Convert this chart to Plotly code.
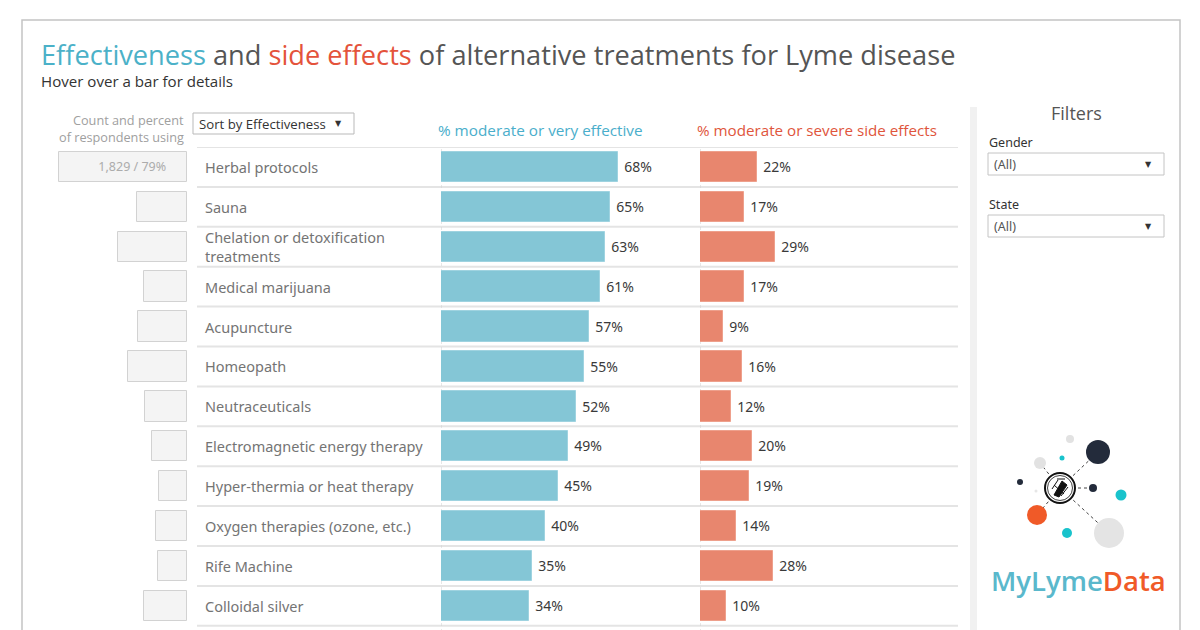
import textwrap
import plotly.graph_objects as go

W, H = 1200, 630
OFF = 8  # page body margin

# ---------------- data ----------------
treatments = ["Herbal protocols", "Sauna", "Chelation or detoxification treatments",
              "Medical marijuana", "Acupuncture", "Homeopath", "Neutraceuticals",
              "Electromagnetic energy therapy", "Hyper-thermia or heat therapy",
              "Oxygen therapies (ozone, etc.)", "Rife Machine", "Colloidal silver"]
pct_effective = [68, 65, 63, 61, 57, 55, 52, 49, 45, 40, 35, 34]
pct_side_effects = [22, 17, 29, 17, 9, 16, 12, 20, 19, 14, 28, 10]
respondents_using = [1829, 716, 984, 616, 697, 849, 601, 501, 405, 440, 420, 616]
pct_respondents_using = [79, 31, 43, 27, 30, 37, 26, 22, 17, 19, 18, 27]

# ---------------- helpers ----------------
def px(x):
    return (x - OFF) / W

def py(y):
    return 1 - (y - OFF) / H

BLUE = "#84c6d6"
RED = "#e8866e"
TITLE_BLUE = "#4bb1c8"
TITLE_RED = "#e4533b"
GREY_TXT = "#555555"
FONT = "Open Sans"
LABEL_FONT = "Noto Sans"
NB = "\u00a0"

n = len(treatments)
rows = list(range(n))
count_labels = [NB * 6 + f"{c:,} / {p}%" if i == 0 else "" for i, (c, p) in
                enumerate(zip(respondents_using, pct_respondents_using))]

fig = go.Figure()

# left "count" boxes (reversed axis)
fig.add_trace(go.Bar(
    y=rows, x=respondents_using, orientation="h", xaxis="x", yaxis="y",
    width=0.76, marker=dict(color="#f4f4f4", line=dict(color="#d2d2d2", width=1)),
    text=count_labels, textposition="inside", insidetextanchor="middle",
    textfont=dict(family=LABEL_FONT, size=12.5, color="#acacac"),
    customdata=pct_respondents_using,
    hovertemplate="%{x:,} respondents (%{customdata}%)<extra></extra>",
    showlegend=False))

# effectiveness bars
fig.add_trace(go.Bar(
    y=rows, x=pct_effective, orientation="h", xaxis="x2", yaxis="y",
    width=0.76, marker=dict(color=BLUE, line=dict(color="#9fd3e0", width=1)),
    text=[f"{NB}{v}%" for v in pct_effective], textposition="outside", cliponaxis=False,
    textfont=dict(family=LABEL_FONT, size=14, color="#3a3a3a"),
    hovertemplate="%{x}% moderate or very effective<extra></extra>",
    showlegend=False))

# side-effect bars
fig.add_trace(go.Bar(
    y=rows, x=pct_side_effects, orientation="h", xaxis="x3", yaxis="y",
    width=0.76, marker=dict(color=RED, line=dict(color="#eea08c", width=1)),
    text=[f"{NB}{v}%" for v in pct_side_effects], textposition="outside", cliponaxis=False,
    textfont=dict(family=LABEL_FONT, size=14, color="#3a3a3a"),
    hovertemplate="%{x}% moderate or severe side effects<extra></extra>",
    showlegend=False))

PX_PER_PCT = 2.6
PX_PER_COUNT = 127.7 / 1829

hidden = dict(showgrid=False, zeroline=False, showticklabels=False, ticks="",
              showline=False, fixedrange=True)
fig.update_layout(
    width=W, height=H, margin=dict(l=0, r=0, t=0, b=0),
    paper_bgcolor="white", plot_bgcolor="rgba(0,0,0,0)",
    bargap=0,
    xaxis=dict(domain=[px(40), px(187)], range=[(187 - 40) / PX_PER_COUNT, 0],
               anchor="y", **hidden),
    xaxis2=dict(domain=[px(441), px(688)], range=[0, (688 - 441) / PX_PER_PCT],
                anchor="y", **hidden),
    xaxis3=dict(domain=[px(700), px(958)], range=[0, (958 - 700) / PX_PER_PCT],
                anchor="y", **hidden),
    yaxis=dict(domain=[0, py(147)], range=[-0.5 + (H + OFF - 147) / 39.9, -0.5],
               **hidden),
    font=dict(family=FONT),
)

shapes = []
annotations = []

# outer frame
shapes.append(dict(type="rect", xref="paper", yref="paper", x0=px(22), x1=px(1180),
                   y0=-0.05, y1=py(20), line=dict(color="#c4c4c4", width=1.5),
                   layer="below"))
# right-panel divider strip
shapes.append(dict(type="rect", xref="paper", yref="paper", x0=px(970), x1=px(977),
                   y0=-0.05, y1=py(107), line=dict(width=0), fillcolor="#f1f1f1",
                   layer="below"))

# row separators
for i in range(n + 1):
    shapes.append(dict(type="line", xref="paper", yref="y", x0=px(197), x1=px(958),
                       y0=i - 0.5, y1=i - 0.5, line=dict(color="#e4e4e4", width=2),
                       layer="below"))
# dotted zero lines
for ax in ("x2", "x3"):
    shapes.append(dict(type="line", xref=ax, yref="paper", x0=0, x1=0, y0=0,
                       y1=py(147), line=dict(color="#cfcfcf", width=1, dash="dot"),
                       layer="below"))

# row labels
for i, name in enumerate(treatments):
    annotations.append(dict(xref="paper", yref="y", x=px(203), y=i, xanchor="left",
                            yanchor="middle", align="left", showarrow=False,
                            text="<br>".join(textwrap.wrap(name, 30)),
                            font=dict(family=LABEL_FONT, size=14.5, color="#747474")))

# title + subtitle
annotations.append(dict(
    xref="paper", yref="paper", x=px(39), y=py(55), xanchor="left", yanchor="middle",
    showarrow=False,
    text=(f"<span style='color:{TITLE_BLUE}'>Effectiveness</span> and "
          f"<span style='color:{TITLE_RED}'>side effects</span> of alternative "
          "treatments for Lyme disease"),
    font=dict(family=FONT, size=27.2, color=GREY_TXT)))
annotations.append(dict(
    xref="paper", yref="paper", x=px(39), y=py(81), xanchor="left", yanchor="middle",
    showarrow=False, text="Hover over a bar for details",
    font=dict(family=FONT, size=15.1, color="#333333")))

# column headers
annotations.append(dict(xref="paper", yref="paper", x=px(186), y=py(120), xanchor="right",
                        yanchor="middle", showarrow=False, text="Count and percent",
                        font=dict(family=FONT, size=12.7, color="#a0a0a0")))
annotations.append(dict(xref="paper", yref="paper", x=px(186), y=py(137), xanchor="right",
                        yanchor="middle", showarrow=False, text="of respondents using",
                        font=dict(family=FONT, size=12.7, color="#a0a0a0")))
annotations.append(dict(xref="paper", yref="paper", x=px(540), y=py(130), xanchor="center",
                        yanchor="middle", showarrow=False,
                        text="% moderate or very effective",
                        font=dict(family=FONT, size=15.3, color="#4aaecb")))
annotations.append(dict(xref="paper", yref="paper", x=px(817), y=py(130), xanchor="center",
                        yanchor="middle", showarrow=False,
                        text="% moderate or severe side effects",
                        font=dict(family=FONT, size=15.2, color="#e0553c")))

# sort dropdown
shapes.append(dict(type="rect", xref="paper", yref="paper", x0=px(193), x1=px(354),
                   y0=py(134), y1=py(113), line=dict(color="#b9b9b9", width=1),
                   fillcolor="white"))
annotations.append(dict(xref="paper", yref="paper", x=px(197), y=py(123.5), xanchor="left",
                        yanchor="middle", showarrow=False, text="Sort by Effectiveness",
                        font=dict(family=FONT, size=13.2, color="#333333")))
annotations.append(dict(xref="paper", yref="paper", x=px(338), y=py(123), xanchor="center",
                        yanchor="middle", showarrow=False, text="▼",
                        font=dict(family="DejaVu Sans", size=8, color="#333333")))

# filters panel
annotations.append(dict(xref="paper", yref="paper", x=px(1076), y=py(113), xanchor="center",
                        yanchor="middle", showarrow=False, text="Filters",
                        font=dict(family=FONT, size=18, color="#555555")))
for label, ytxt, ytop, ybot in (("Gender", 142, 153, 175), ("State", 204, 215, 237)):
    annotations.append(dict(xref="paper", yref="paper", x=px(987), y=py(ytxt),
                            xanchor="left", yanchor="middle", showarrow=False, text=label,
                            font=dict(family=LABEL_FONT, size=12.5, color="#333333")))
    shapes.append(dict(type="rect", xref="paper", yref="paper", x0=px(988), x1=px(1164),
                       y0=py(ybot), y1=py(ytop), line=dict(color="#c4c4c4", width=1),
                       fillcolor="white"))
    annotations.append(dict(xref="paper", yref="paper", x=px(992), y=py((ytop + ybot) / 2),
                            xanchor="left", yanchor="middle", showarrow=False, text="(All)",
                            font=dict(family=LABEL_FONT, size=12.5, color="#555555")))
    annotations.append(dict(xref="paper", yref="paper", x=px(1148), y=py((ytop + ybot) / 2),
                            xanchor="center", yanchor="middle", showarrow=False, text="▼",
                            font=dict(family="DejaVu Sans", size=8, color="#333333")))

# ---- logo ----
CX, CY = 1060, 488
logo_dots = [  # (x, y, r, colour)
    (1070, 439, 4, "#e2e2e2"), (1098, 452, 12, "#232b3b"), (1062, 458, 2.5, "#19c3cc"),
    (1040, 463, 6, "#e2e2e2"), (1020, 482, 3, "#232b3b"), (1093, 488, 4, "#232b3b"),
    (1036, 491, 1.5, "#e6e6e6"), (1121, 495, 5.5, "#19c3cc"), (1037, 515, 10, "#f05a28"),
    (1067, 533, 5, "#19c3cc"), (1109, 533, 15, "#e4e4e4"),
]
for (x, y, r, c) in logo_dots:
    if (x, y) in ((1098, 452), (1040, 463), (1093, 488), (1037, 515), (1109, 533)):
        shapes.append(dict(type="line", xref="paper", yref="paper", x0=px(CX), y0=py(CY),
                           x1=px(x), y1=py(y), line=dict(color="#444444", width=1, dash="dot")))
for (x, y, r, c) in logo_dots:
    shapes.append(dict(type="circle", xref="paper", yref="paper", x0=px(x - r), x1=px(x + r),
                       y0=py(y + r), y1=py(y - r), fillcolor=c, line=dict(width=0)))
shapes.append(dict(type="circle", xref="paper", yref="paper", x0=px(CX - 15), x1=px(CX + 15),
                   y0=py(CY + 15), y1=py(CY - 15), fillcolor="white",
                   line=dict(color="#111111", width=2)))
shapes.append(dict(type="circle", xref="paper", yref="paper", x0=px(CX - 12.5), x1=px(CX + 12.5),
                   y0=py(CY + 12.5), y1=py(CY - 12.5), line=dict(color="#111111", width=0.8)))
# tick silhouette
tick_path = "M {} {} L {} {} L {} {} L {} {} Z".format(
    px(CX - 6), py(CY + 7), px(CX + 2), py(CY - 7), px(CX + 7), py(CY - 3), px(CX - 1), py(CY + 9))
shapes.append(dict(type="path", xref="paper", yref="paper", path=tick_path,
                   fillcolor="#111111", line=dict(color="#111111", width=1)))
for (x0, y0, x1, y1) in ((CX - 6, CY - 3, CX + 4, CY + 6), (CX - 8, CY + 1, CX - 2, CY - 8),
                         (CX + 1, CY + 8, CX + 8, CY - 1), (CX - 3, CY - 9, CX + 5, CY - 9)):
    shapes.append(dict(type="line", xref="paper", yref="paper", x0=px(x0), y0=py(y0),
                       x1=px(x1), y1=py(y1), line=dict(color="#111111", width=1)))

annotations.append(dict(
    xref="paper", yref="paper", x=px(1078), y=py(580), xanchor="center", yanchor="middle",
    showarrow=False,
    text="<span style='color:#5ab8cc'>MyLyme</span><span style='color:#f05a28'>Data</span>",
    font=dict(family=FONT, size=27.5, weight=600)))

fig.update_layout(shapes=shapes, annotations=annotations)
fig.write_html("out.html")
